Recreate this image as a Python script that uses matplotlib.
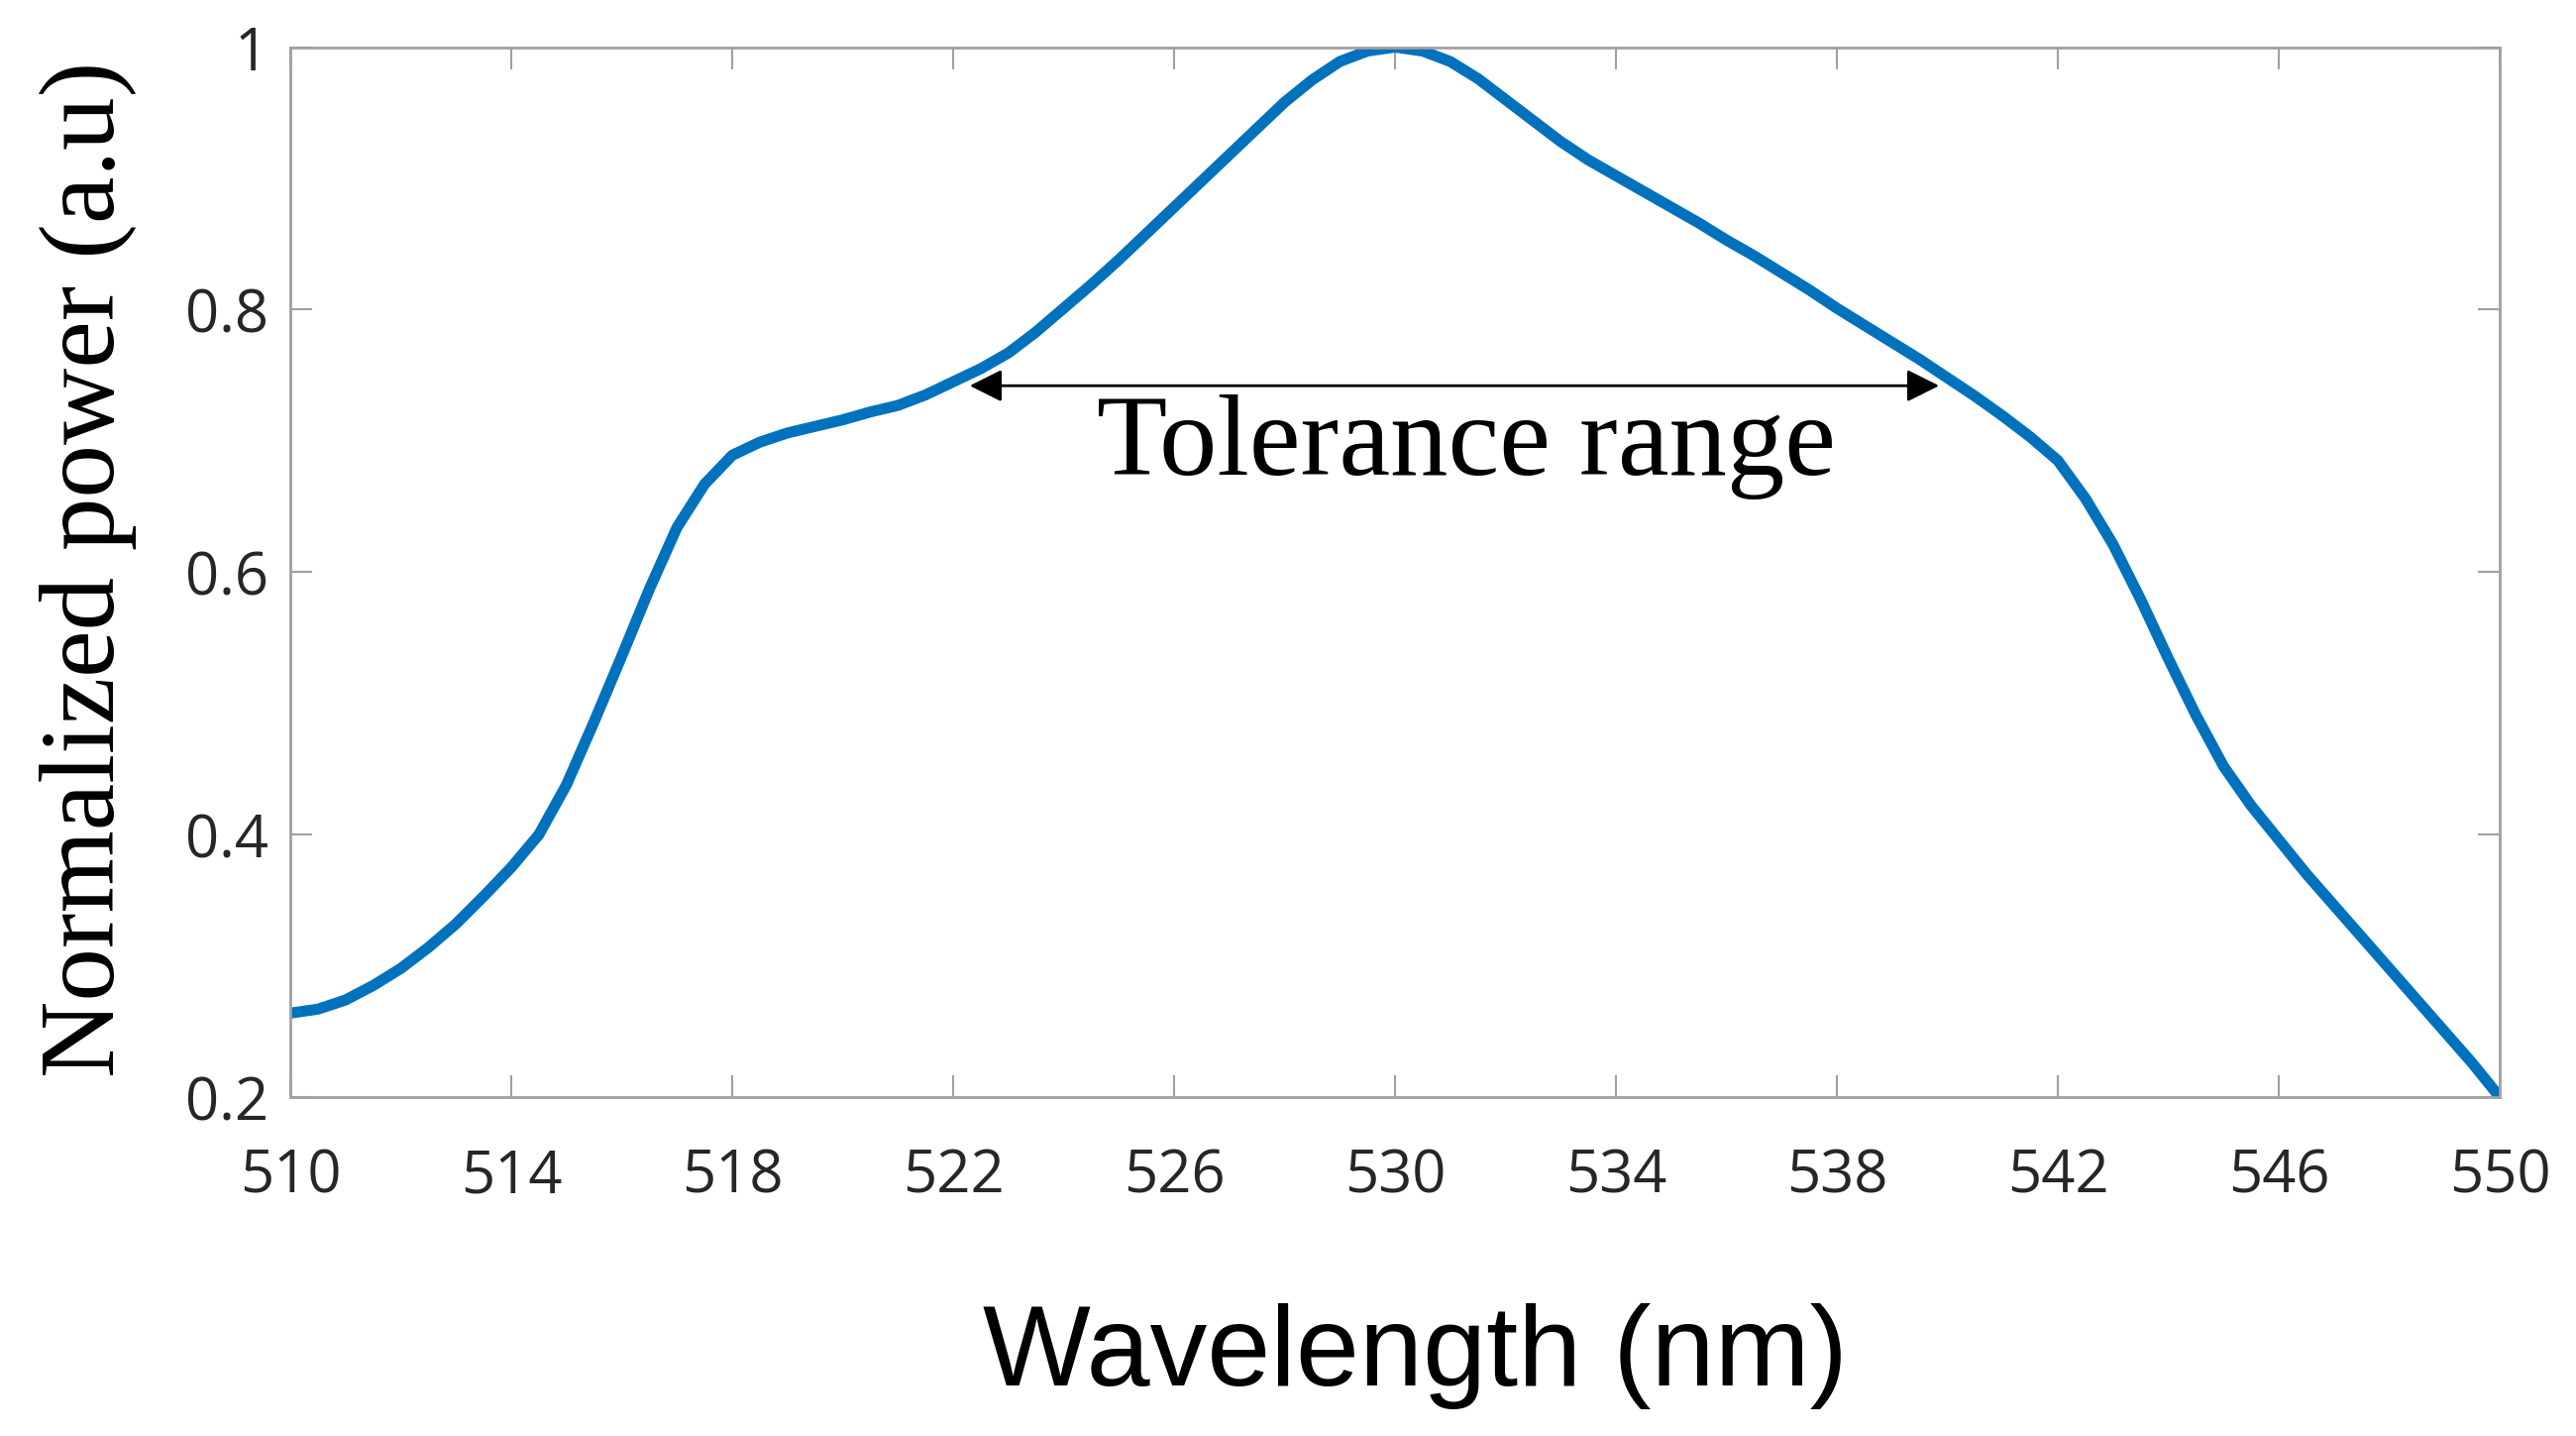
import numpy as np
import matplotlib
matplotlib.use("Agg")
import matplotlib.pyplot as plt

# spectrum (0.5 nm steps)
wavelength = np.arange(510, 550.5, 0.5)
power = [0.264, 0.267, 0.274, 0.285, 0.298, 0.314, 0.332, 0.353, 0.375, 0.400,
         0.438, 0.486, 0.536, 0.587, 0.634, 0.667, 0.689, 0.699, 0.706, 0.711,
         0.716, 0.722, 0.727, 0.735, 0.745, 0.755, 0.767, 0.783, 0.801, 0.819,
         0.838, 0.858, 0.878, 0.898, 0.918, 0.938, 0.958, 0.975, 0.989, 0.997,
         1.000, 0.997, 0.989, 0.976, 0.960, 0.944, 0.928, 0.914, 0.902, 0.890,
         0.878, 0.866, 0.853, 0.841, 0.828, 0.815, 0.801, 0.788, 0.775, 0.762,
         0.748, 0.734, 0.719, 0.703, 0.685, 0.656, 0.621, 0.579, 0.534, 0.491,
         0.452, 0.422, 0.396, 0.370, 0.346, 0.322, 0.298, 0.274, 0.250, 0.226,
         0.200]

x_ticks = [510, 514, 518, 522, 526, 530, 534, 538, 542, 546, 550]
y_ticks = [0.2, 0.4, 0.6, 0.8, 1.0]
y_ticklabels = ["0.2", "0.4", "0.6", "0.8", "1"]

# tolerance arrow
tol_start = 522.3
tol_end = 539.85
tol_level = 0.742
tol_label = "Tolerance range"

axis_grey = "#a0a0a0"
line_blue = "#0072BD"

fig = plt.figure(figsize=(26, 14.49), dpi=100)
ax = fig.add_axes([0.1127, 0.236, 0.8577, 0.7312])

ax.plot(wavelength, power, color=line_blue, lw=8, solid_joinstyle="round",
        solid_capstyle="butt")

ax.set_xlim(510, 550)
ax.set_ylim(0.2, 1.0)
ax.set_xticks(x_ticks)
ax.set_yticks(y_ticks)
ax.set_yticklabels(y_ticklabels)

for s in ax.spines.values():
    s.set_color(axis_grey)
    s.set_linewidth(2)

ax.tick_params(direction="in", length=16, width=1.5, color=axis_grey,
               top=True, right=True, labelcolor="#262626", labelsize=43)
ax.tick_params(axis="x", pad=36)
ax.tick_params(axis="y", pad=16)
for lab in ax.get_xticklabels() + ax.get_yticklabels():
    lab.set_fontfamily("Open Sans")

ax.annotate("", xy=(tol_start, tol_level), xytext=(tol_end, tol_level),
            arrowprops=dict(arrowstyle="<|-|>", lw=2, color="black",
                            mutation_scale=50, shrinkA=0, shrinkB=0))
ax.text(524.6, 0.674, tol_label, fontsize=84, family="Liberation Serif",
        ha="left", va="baseline")

ax.set_xlabel("Wavelength (nm)", fontsize=83, family="Liberation Sans")
ax.xaxis.label.set_va("baseline")
ax.xaxis.set_label_coords(0.509, -0.2747)

ax.set_ylabel("Normalized power (a.u)", fontsize=77, family="Liberation Serif")
ax.yaxis.label.set_rotation_mode("anchor")
ax.yaxis.label.set_va("baseline")
ax.yaxis.label.set_ha("center")
ax.yaxis.set_label_coords(-0.0798, 0.503)

fig.savefig("out.png", dpi=100, facecolor="white")
